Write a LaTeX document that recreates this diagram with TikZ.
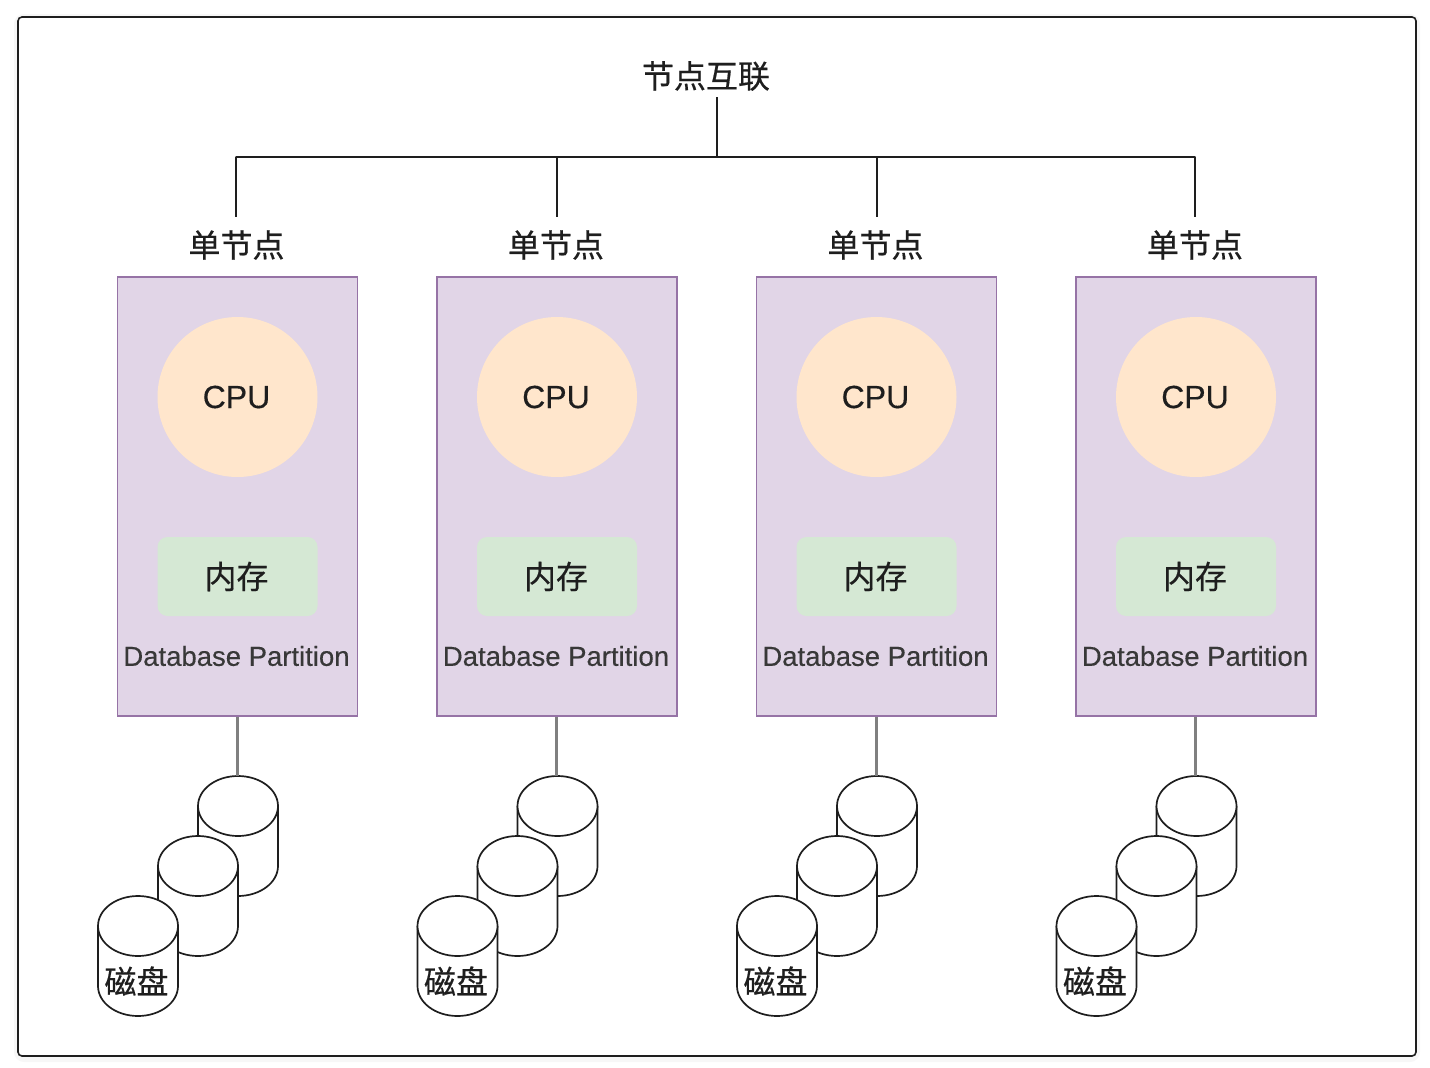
\documentclass[tikz,border=0pt]{standalone}
\usepackage{fontspec}
\setmainfont[FakeBold=0.3]{Liberation Sans}
\newfontfamily\cjk[FakeBold=0.5]{Noto Sans CJK SC}
\definecolor{partfill}{HTML}{E1D5E7}
\definecolor{partline}{HTML}{9673A6}
\definecolor{cpucolor}{HTML}{FFE6CC}
\definecolor{memcolor}{HTML}{D5E8D4}
\definecolor{inkcolor}{HTML}{1E1E1E}
\newcommand{\disk}[3]{%
  \filldraw[diskline] (#1,#2+30) -- (#1,#2+90) arc[start angle=180, end angle=0, x radius=40, y radius=30]
    -- (#1+80,#2+30);
  \filldraw[diskline] (#1+40,#2+30) ellipse[x radius=40, y radius=30];
  \coordinate (#3) at (#1+40,#2);
}
\tikzset{
  frameline/.style={draw=inkcolor, line width=1.6pt, rounded corners=4pt},
  busline/.style={draw=inkcolor, line width=1.5pt},
  feedline/.style={draw=black!50, line width=3pt},
  diskline/.style={draw=inkcolor, fill=white, line width=1.7pt},
  cjklabel/.style={font=\cjk\fontsize{32}{36}\selectfont, text=inkcolor, inner sep=0pt},
  partbox/.style={draw=partline, fill=partfill, line width=1.8pt, minimum width=240pt, minimum height=439pt, inner sep=0pt},
  cpunode/.style={circle, fill=cpucolor, minimum size=160pt, inner sep=0pt, text=inkcolor, font=\fontsize{32}{36}\selectfont},
  memnode/.style={rounded corners=10pt, fill=memcolor, minimum width=160pt, minimum height=79pt, inner sep=0pt, cjklabel},
  partlabel/.style={font=\fontsize{27.5}{32}\selectfont, text=black!78, inner sep=0pt},
}
\begin{document}
\begin{tikzpicture}[x=1pt, y=-1pt]
    \useasboundingbox (0,0) rectangle (1430,1068);
    % Outer frame with its soft shadow
    \draw[black!3, line width=8pt, rounded corners=6pt] (18,18) rectangle (1416,1058);
    \draw[frameline, fill=white] (18,17) rectangle (1416,1056);
    % Title and bus
    \node[cjklabel, minimum height=42pt] (title) at (706,76) {节点互联};
    \coordinate (busroot) at (717,157);
    \draw[busline] (busroot |- title.south) -- (busroot);
    \draw[busline, line cap=round] (236,157) -- (1195,157);
    % Nodes (index, box centre, text centre, drop x, feed x)
    \foreach \i/\x/\t/\d/\f in {1/237.5/236.5/236/237, 2/557/556/557/556, 3/876.5/875.5/877/876, 4/1196/1195/1195/1195} {
      \node[cjklabel, minimum height=56pt] (single\i) at (\t,245) {单节点};
      \coordinate (drop\i) at (\d,157);
      \draw[busline] (drop\i) -- (drop\i |- single\i.north);
      \node[partbox] (part\i) at (\x,496.5) {};
      \node[cpunode] (cpu\i) at (\x,397) {\makebox[0pt]{\hspace{-2pt}CPU}};
      \node[memnode] (mem\i) at (\x,576.5) {\makebox[0pt]{\hspace{-2pt}内存}};
      \node[partlabel] (label\i) at (\t,656) {Database Partition};
      % Disks, back to front
      \disk{\x-39.5}{776}{disktop\i}
      \disk{\x-79.5}{836}{diskmid\i}
      \disk{\x-139.5}{896}{diskfront\i}
      \node[cjklabel] (disktext\i) at (\x-101,981) {磁盘};
      \coordinate (feed\i) at (\f,776);
      \draw[feedline] (feed\i |- part\i.south) -- (feed\i);
    }
  \end{tikzpicture}
\end{document}
